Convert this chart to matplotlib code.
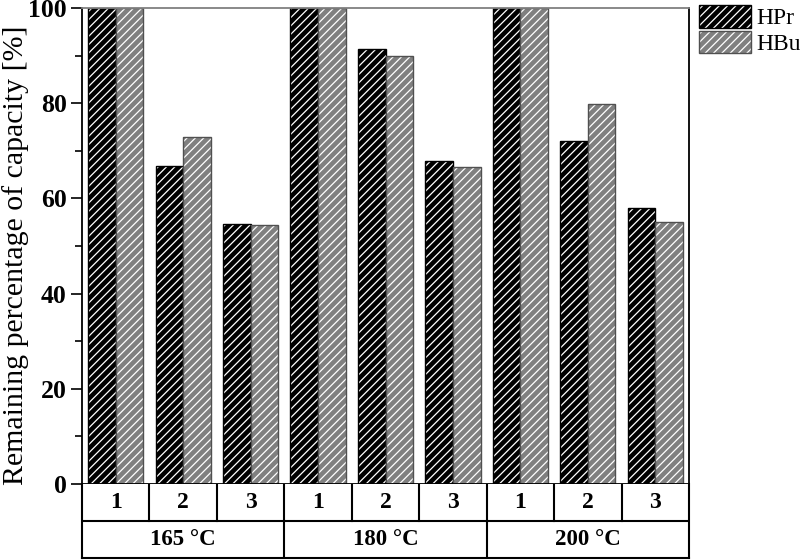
import numpy as np
import matplotlib
matplotlib.use("Agg")
import matplotlib.pyplot as plt
from matplotlib.patches import Patch
from matplotlib.ticker import MultipleLocator

plt.rcParams['font.family'] = ['Liberation Serif', 'DejaVu Serif']
plt.rcParams['hatch.linewidth'] = 0.9

# data
temps = ['165 °C', '180 °C', '200 °C']
cycles = ['1', '2', '3']
hpr = [100, 66.8, 54.6, 100, 91.3, 67.8, 100, 72.0, 58.0]
hbu = [100, 73.0, 54.5, 100, 89.9, 66.6, 100, 79.8, 55.1]
series = ['HPr', 'HBu']
colors = ['#000000', '#808080']
edges = ['#000000', '#505050']

fig = plt.figure(figsize=(8, 5.6), dpi=100)
ax = fig.add_axes([82/800, 1 - 484/560, (689 - 82)/800, (484 - 8)/560])
tab = fig.add_axes([82/800, 1 - 558/560, (689 - 82)/800, (558 - 484)/560])

x = np.arange(len(hpr))
w = 0.41
for vals, off, c, ec in [(hpr, -w/2, colors[0], edges[0]), (hbu, w/2, colors[1], edges[1])]:
    ax.bar(x + off, vals, w, color=c, edgecolor='white', hatch='////', linewidth=0)
    ax.bar(x + off, vals, w, fill=False, edgecolor=ec, linewidth=1.0)

ax.set_xlim(-0.5, len(hpr) - 0.5)
ax.set_ylim(0, 100)
ax.set_xticks([])
ax.yaxis.set_major_locator(MultipleLocator(20))
ax.yaxis.set_minor_locator(MultipleLocator(10))
ax.tick_params(axis='y', which='major', direction='out', length=8, width=1.2,
               labelsize=18.5, pad=3)
ax.tick_params(axis='y', which='minor', direction='out', length=5, width=1.2)
for lab in ax.get_yticklabels():
    lab.set_fontweight('bold')
for s in ax.spines.values():
    s.set_linewidth(1.3)
ax.spines['top'].set_color('#808080')
ax.set_ylabel('Remaining percentage of capacity [%]', fontsize=21.5)
ax.yaxis.set_label_coords(-0.088, 0.481)

# category table below the plot
tab.set_xlim(-0.5, len(hpr) - 0.5)
tab.set_ylim(0, 2)
tab.set_xticks([])
tab.set_yticks([])
for s in tab.spines.values():
    s.set_linewidth(1.5)
tab.spines['top'].set_visible(False)
tab.axhline(1, color='black', lw=1.5)
for i in range(1, len(hpr)):
    tab.plot([i - 0.5, i - 0.5], [1, 2], color='black', lw=1.5)
for i in range(len(hpr)):
    tab.text(i, 1.5, cycles[i % 3], ha='center', va='center',
             fontsize=17, fontweight='bold')
for j, t in enumerate(temps):
    if j > 0:
        tab.plot([3*j - 0.5, 3*j - 0.5], [0, 1], color='black', lw=1.5)
    tab.text(3*j + 1, 0.5, t, ha='center', va='center',
             fontsize=16.5, fontweight='bold')

handles = [(Patch(facecolor=c, edgecolor='white', hatch='////', linewidth=0),
            Patch(fill=False, edgecolor=ec, linewidth=1.0))
           for c, ec in zip(colors, edges)]
fig.legend(handles, series, loc='upper left', bbox_to_anchor=(699/800, 1 - 5/560),
           frameon=False, fontsize=17, handlelength=2.2, handleheight=1.1,
           labelspacing=0.05, borderpad=0, borderaxespad=0, handletextpad=0.25)

fig.savefig('out.png', dpi=100)
